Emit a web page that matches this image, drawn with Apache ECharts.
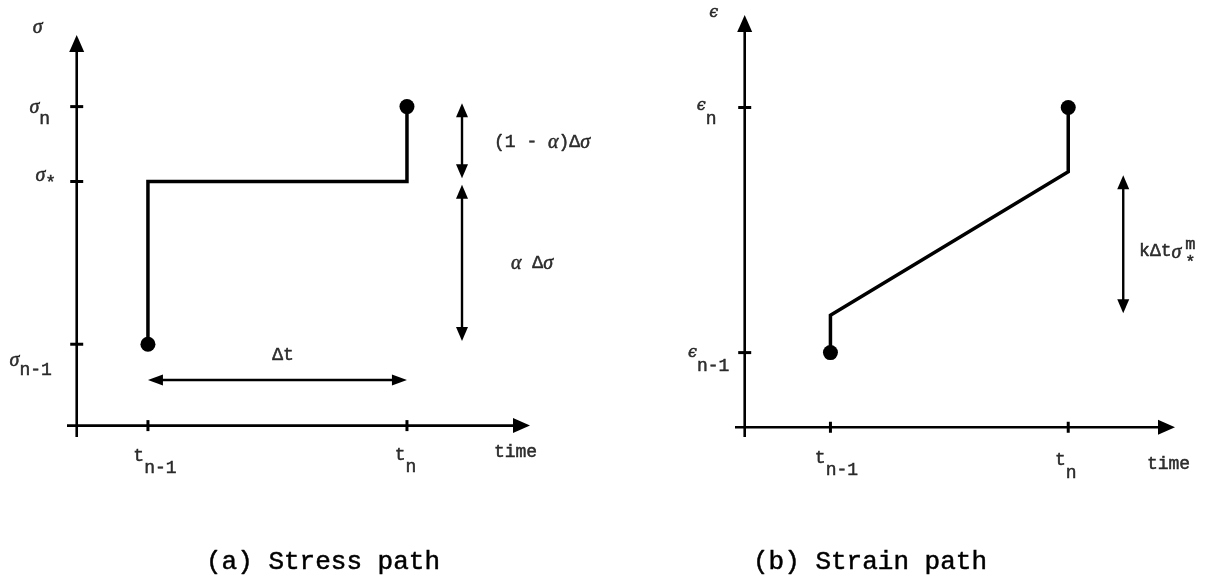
<!DOCTYPE html>
<html>
<head>
<meta charset="utf-8">
<script src="https://cdn.jsdelivr.net/npm/echarts/dist/echarts.min.js"></script>
<style>
  html, body { margin: 0; padding: 0; background: #fff; }
  #chart { width: 1207px; height: 577px; }
</style>
</head>
<body>
<div id="chart"></div>
<script>
// ---- (a) stress path over one time step ----
const stressTimes = [2.2, 10.2];                 // t_{n-1}, t_n
const stressTimeLabels = [['t', 'n-1'], ['t', 'n']];
const stressLevels = [2.5, 7.5, 9.8];            // σ_{n-1}, σ_*, σ_n
const stressLevelLabels = [['σ', 'n-1'], ['σ', '*'], ['σ', 'n']];
const stressStepY = 1.4;                         // height of the Δt dimension arrow
const stressSplitX = 11.9;                       // x of the (1-α)Δσ / αΔσ arrows
const stressSplitSpans = [[9.9, 7.6], [7.4, 2.6]];
const stressXRange = [-0.3, 14.0];
const stressYRange = [-0.35, 12.0];

// ---- (b) strain path over one time step ----
const strainTimes = [2.65, 10.0];                // t_{n-1}, t_n
const strainTimeLabels = [['t', 'n-1'], ['t', 'n']];
const strainLevels = [2.3, 9.85];                // ϵ_{n-1}, ϵ_n
const strainLevelLabels = [['ϵ', 'n-1'], ['ϵ', 'n']];
const strainPath = [[2.65, 2.3], [2.65, 3.45], [10.0, 7.87], [10.0, 9.85]];
const creepX = 11.7;                             // x of the kΔtσ*^m arrow
const creepSpan = [7.76, 3.51];
const strainXRange = [-0.3, 13.3];
const strainYRange = [-0.3, 12.7];

// ---- styling ----
const INK = '#000';
const MONO = '"Liberation Mono", "DejaVu Sans Mono", monospace';
const SERIF = '"Liberation Serif", "DejaVu Serif", serif';
const EPS_FONT = '"DejaVu Serif", "Liberation Serif", serif';
const HEFT = { textBorderColor: INK, textBorderWidth: 0.5 };

function tok(extra) {
  return Object.assign({ color: INK, verticalAlign: 'top' }, HEFT, extra);
}

const RICH = {
  m: tok({ fontFamily: MONO, fontSize: 18 }),
  g: tok({ fontFamily: SERIF, fontStyle: 'italic', fontSize: 20 }),
  e: tok({ fontFamily: EPS_FONT, fontStyle: 'italic', fontSize: 16 }),
  sup: Object.assign({ color: INK, fontFamily: MONO, fontSize: 17, lineHeight: 18 }, HEFT),
  star: Object.assign({ color: INK, fontFamily: MONO, fontSize: 17, lineHeight: 18 }, HEFT)
};
[8, 11, 12, 13].forEach(function (p) {
  RICH['s' + p] = tok({ fontFamily: MONO, fontSize: 18, padding: [p, 0, 0, 0] });
});

function subLabel(parts, pad) {
  const base = parts[0] === 't' ? 'm' : (parts[0] === 'ϵ' ? 'e' : 'g');
  return '{' + base + '|' + parts[0] + '}{s' + pad + '|' + parts[1] + '}';
}

// straight arrows with filled heads, drawn through the grid's scales
function arrowSeries(gridIndex, items, head, lineWidth) {
  return {
    type: 'custom',
    xAxisIndex: gridIndex,
    yAxisIndex: gridIndex,
    silent: true,
    clip: false,
    z: 3,
    dimensions: ['x1', 'y1', 'x2', 'y2', 'heads'],
    encode: { x: [0, 2], y: [1, 3] },
    data: items,
    renderItem: function (params, api) {
      const a = api.coord([api.value(0), api.value(1)]);
      const b = api.coord([api.value(2), api.value(3)]);
      const both = api.value(4) === 2;
      const dx = b[0] - a[0], dy = b[1] - a[1];
      const len = Math.sqrt(dx * dx + dy * dy) || 1;
      const ux = dx / len, uy = dy / len;
      const nx = -uy, ny = ux;
      const L = head[0], W = head[1] / 2;
      function tri(tip, dir) {
        const bx = tip[0] - dir * ux * L, by = tip[1] - dir * uy * L;
        return [[tip[0], tip[1]], [bx + nx * W, by + ny * W], [bx - nx * W, by - ny * W]];
      }
      const children = [{
        type: 'line',
        shape: {
          x1: a[0] + (both ? ux * L * 0.6 : 0), y1: a[1] + (both ? uy * L * 0.6 : 0),
          x2: b[0] - ux * L * 0.6, y2: b[1] - uy * L * 0.6
        },
        style: { stroke: INK, lineWidth: lineWidth }
      }, {
        type: 'polygon', shape: { points: tri(b, 1) }, style: { fill: INK }
      }];
      if (both) children.push({ type: 'polygon', shape: { points: tri(a, -1) }, style: { fill: INK } });
      return { type: 'group', children: children };
    }
  };
}

function textSeries(gridIndex, items) {
  return {
    type: 'scatter',
    xAxisIndex: gridIndex,
    yAxisIndex: gridIndex,
    symbolSize: 1,
    itemStyle: { color: 'rgba(0,0,0,0)' },
    silent: true,
    clip: false,
    z: 6,
    label: { show: true, position: 'inside', color: INK, rich: RICH },
    data: items.map(function (it) {
      return { value: it.at, label: { formatter: it.text, offset: it.offset } };
    })
  };
}

function tickSeries(gridIndex, points, size) {
  return {
    type: 'scatter', xAxisIndex: gridIndex, yAxisIndex: gridIndex,
    symbol: 'rect', symbolSize: size, silent: true, clip: false, z: 4,
    itemStyle: { color: INK, opacity: 1 }, data: points
  };
}

function dotSeries(gridIndex, points) {
  return {
    type: 'scatter', xAxisIndex: gridIndex, yAxisIndex: gridIndex,
    symbol: 'circle', symbolSize: 15, silent: true, clip: false, z: 5,
    itemStyle: { color: INK, opacity: 1 }, data: points
  };
}

function pathSeries(gridIndex, points) {
  return {
    type: 'line', xAxisIndex: gridIndex, yAxisIndex: gridIndex,
    symbol: 'none', silent: true, clip: false, z: 4, animation: false,
    lineStyle: { color: INK, width: 3.5, join: 'miter', opacity: 1 }, data: points
  };
}

const mid = function (a, b) { return (a + b) / 2; };

// stress path: jump to σ_*, hold over Δt, jump to σ_n
const stressPath = [
  [stressTimes[0], stressLevels[0]],
  [stressTimes[0], stressLevels[1]],
  [stressTimes[1], stressLevels[1]],
  [stressTimes[1], stressLevels[2]]
];

const series = [
  // ---- panel (a) ----
  arrowSeries(0, [
    [stressXRange[0], 0, stressXRange[1], 0, 1],
    [0, stressYRange[0], 0, stressYRange[1], 1]
  ], [17, 15], 2.6),
  arrowSeries(0, [
    [stressTimes[0], stressStepY, stressTimes[1], stressStepY, 2]
  ], [15, 11], 2.6),
  arrowSeries(0, stressSplitSpans.map(function (s) {
    return [stressSplitX, s[0], stressSplitX, s[1], 2];
  }), [14, 12], 2.4),
  tickSeries(0, stressLevels.map(function (v) { return [0, v]; }), [13, 3]),
  tickSeries(0, stressTimes.map(function (v) { return [v, 0]; }), [3, 11]),
  pathSeries(0, stressPath),
  dotSeries(0, [stressPath[0], stressPath[3]]),
  textSeries(0, [
    { at: [stressTimes[0], 0], offset: [7, 37], text: subLabel(stressTimeLabels[0], 12) },
    { at: [stressTimes[1], 0], offset: [-1.5, 36], text: subLabel(stressTimeLabels[1], 12) },
    { at: [0, stressLevels[0]], offset: [-46, 21], text: subLabel(stressLevelLabels[0], 11) },
    { at: [0, stressLevels[1]], offset: [-31, -2.5], text: subLabel(stressLevelLabels[1], 8) },
    { at: [0, stressLevels[2]], offset: [-37, 6.5], text: subLabel(stressLevelLabels[2], 12) },
    { at: [0, stressYRange[1]], offset: [-39, -7], text: '{g|σ}' },
    { at: [stressXRange[1], 0], offset: [-14.5, 27], text: '{m|time}' },
    { at: [mid(stressTimes[0], stressTimes[1]), stressStepY], offset: [5.5, -25], text: '{m|Δt}' },
    { at: [stressSplitX, mid(stressSplitSpans[0][0], stressSplitSpans[0][1])], offset: [80, 2],
      text: '{m|(1 - }{g|α}{m|)Δ}{g|σ}' },
    { at: [stressSplitX, mid(stressSplitSpans[1][0], stressSplitSpans[1][1])], offset: [70, 1],
      text: '{g|α}{m| Δ}{g|σ}' }
  ]),

  // ---- panel (b) ----
  arrowSeries(1, [
    [strainXRange[0], 0, strainXRange[1], 0, 1],
    [0, strainYRange[0], 0, strainYRange[1], 1]
  ], [17, 15], 2.6),
  arrowSeries(1, [
    [creepX, creepSpan[0], creepX, creepSpan[1], 2]
  ], [14, 12], 2.4),
  tickSeries(1, strainLevels.map(function (v) { return [0, v]; }), [13, 3]),
  tickSeries(1, strainTimes.map(function (v) { return [v, 0]; }), [3, 11]),
  pathSeries(1, strainPath),
  dotSeries(1, [strainPath[0], strainPath[3]]),
  textSeries(1, [
    { at: [strainTimes[0], 0], offset: [6, 37], text: subLabel(strainTimeLabels[0], 12) },
    { at: [strainTimes[1], 0], offset: [-2.5, 39], text: subLabel(strainTimeLabels[1], 13) },
    { at: [0, strainLevels[0]], offset: [-36, 7.5], text: subLabel(strainLevelLabels[0], 12) },
    { at: [0, strainLevels[1]], offset: [-38, 5.5], text: subLabel(strainLevelLabels[1], 12) },
    { at: [0, strainYRange[1]], offset: [-31, -2], text: '{e|ϵ}' },
    { at: [strainXRange[1], 0], offset: [-6.5, 37], text: '{m|time}' },
    { at: [creepX, mid(creepSpan[0], creepSpan[1])], offset: [37, 8], text: '{m|kΔt}{g|σ}' },
    { at: [creepX, mid(creepSpan[0], creepSpan[1])], offset: [67, 9], text: '{sup|m}\n{star|*}' }
  ])
];

const chart = echarts.init(document.getElementById('chart'), null, { renderer: 'canvas' });
chart.setOption({
  backgroundColor: '#fff',
  animation: false,
  grid: [
    { left: 67, top: 35, width: 463, height: 402, containLabel: false, outerBoundsMode: 'none' },
    { left: 735, top: 15, width: 440, height: 422, containLabel: false, outerBoundsMode: 'none' }
  ],
  xAxis: [
    { type: 'value', gridIndex: 0, min: stressXRange[0], max: stressXRange[1], show: false },
    { type: 'value', gridIndex: 1, min: strainXRange[0], max: strainXRange[1], show: false }
  ],
  yAxis: [
    { type: 'value', gridIndex: 0, min: stressYRange[0], max: stressYRange[1], show: false },
    { type: 'value', gridIndex: 1, min: strainYRange[0], max: strainYRange[1], show: false }
  ],
  graphic: [
    { type: 'text', x: 323, y: 562, silent: true,
      style: { text: '(a) Stress path', font: '26px ' + MONO, fill: INK, stroke: INK, lineWidth: 0.5,
               align: 'center', verticalAlign: 'middle' } },
    { type: 'text', x: 870, y: 562, silent: true,
      style: { text: '(b) Strain path', font: '26px ' + MONO, fill: INK, stroke: INK, lineWidth: 0.5,
               align: 'center', verticalAlign: 'middle' } }
  ],
  series: series
});
</script>
</body>
</html>
